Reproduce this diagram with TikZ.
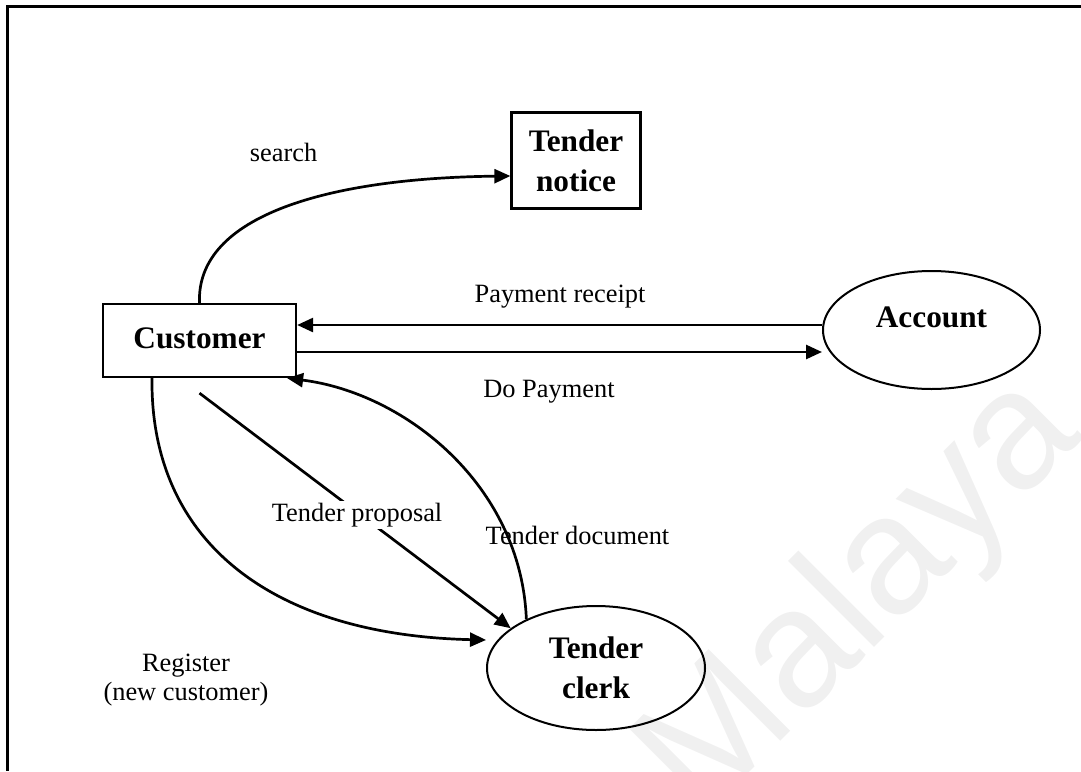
\documentclass[tikz,border=0pt]{standalone}
\usepackage{fontspec}
\setmainfont{Liberation Serif}
\newfontfamily\wmfont{Liberation Sans}
\usetikzlibrary{arrows.meta,shapes.geometric}

\newcommand{\nfont}{\fontsize{26.4}{30}\selectfont}
\newcommand{\bfnt}{\fontsize{31.3}{40}\selectfont\bfseries}

\tikzset{
  frame/.style={line width=3pt},
  procbox/.style={draw, line width=2.3pt, rectangle, font=\bfnt, align=center, inner sep=0pt},
  entity/.style={draw, line width=2pt, ellipse, font=\bfnt, align=center, inner sep=0pt},
  flow/.style={line width=2.7pt, -{Triangle[length=16pt,width=14pt]}},
  flowlabel/.style={font=\nfont, align=center, inner sep=0pt},
  watermark/.style={font=\wmfont\fontsize{168}{168}\selectfont, text=black!6, rotate=45}
}

\begin{document}
\begin{tikzpicture}[x=1pt, y=-1pt]
  \useasboundingbox (0,0) rectangle (1081,771);

  % faint watermark behind the drawing
  \node[watermark] (wm) at (862,598) {Malaya};

  % page frame (open at the right and bottom)
  \draw[frame] (1081,6) -- (7,6) -- (7,771);

  % nodes
  \node[procbox, minimum width=193pt, minimum height=73pt] (cust) at (199.5,340.5)
    {\raisebox{4pt}{Customer}};
  \node[procbox, minimum width=129pt, minimum height=96pt] (notice) at (576,160.5)
    {Tender\\notice};
  \node[entity, minimum width=217pt, minimum height=118pt,
        label={[font=\bfnt, inner sep=0pt, yshift=13pt]center:Account}] (acct) at (931.5,330) {};
  \node[entity, minimum width=218pt, minimum height=124pt] (clerk) at (596,668)
    {Tender\\clerk};

  % search
  \draw[flow] (cust.north) .. controls (196,215) and (330,178) .. ([yshift=-15.5pt]notice.west);
  \node[flowlabel] (lsearch) at (283.5,152) {search};

  % payments
  \draw[flow] ([yshift=5pt]acct.west) -- ([yshift=5pt]acct.west -| cust.east);
  \draw[flow] ([yshift=-11.5pt]cust.east) -- ([yshift=-11.5pt]cust.east -| acct.west);
  \node[flowlabel] (lreceipt) at (560,297) {Payment receipt};
  \node[flowlabel] (lpay) at (549,392) {Do Payment};

  % tender document back to customer
  \draw[flow] (clerk.145) .. controls (521,485) and (405,393) .. ([xshift=-10pt]cust.south east);
  \node[flowlabel] (ldoc) at (577.5,535) {Tender document};

  % tender proposal
  \draw[flow] ([yshift=-15pt]cust.south) -- (clerk.155)
    node[flowlabel, pos=0.5, fill=white, inner sep=2pt, xshift=2pt, yshift=-4pt] (lprop) {Tender proposal};

  % registration
  \draw[flow] ([xshift=-47.5pt]cust.south) .. controls (150,540) and (270,635) .. ([yshift=28pt]clerk.west);
  \node[flowlabel, font=\fontsize{26.4}{29}\selectfont] (lreg) at (186,680) {Register\\(new customer)};
\end{tikzpicture}
\end{document}
